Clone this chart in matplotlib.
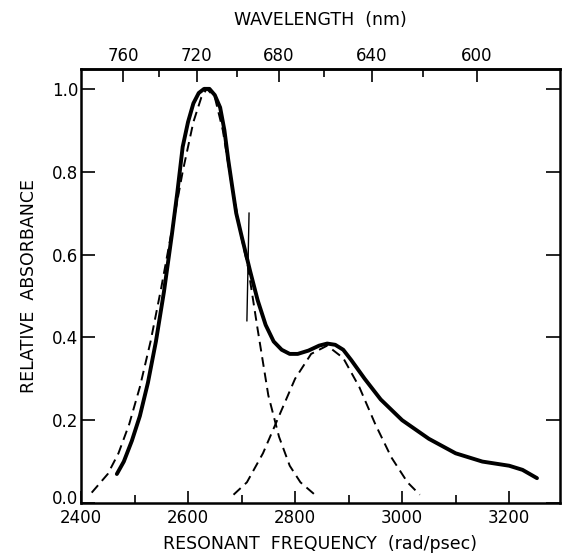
"""
Absorbance spectrum vs. resonant frequency, with the two Gaussian
components of the fit and a wavelength scale on top.
"""

import numpy as np
import matplotlib.pyplot as plt
import matplotlib.transforms as mtransforms
from matplotlib.ticker import MultipleLocator, FixedLocator

# measured spectrum (rad/psec, relative absorbance)
freq = [2467, 2480, 2495, 2510, 2525, 2540, 2555, 2570, 2580, 2590,
        2600, 2610, 2620, 2630, 2640, 2650, 2660, 2668, 2675, 2683,
        2690, 2700, 2716, 2730, 2745, 2760, 2775, 2790, 2805, 2825,
        2845, 2860, 2875, 2890, 2905, 2930, 2960, 3000, 3050, 3100,
        3150, 3200, 3225, 3252]
absorb = [0.07, 0.10, 0.15, 0.21, 0.29, 0.39, 0.51, 0.65, 0.75, 0.86,
          0.92, 0.965, 0.99, 1.00, 1.00, 0.985, 0.955, 0.90, 0.83, 0.76,
          0.70, 0.645, 0.56, 0.49, 0.43, 0.39, 0.37, 0.36, 0.36, 0.368,
          0.38, 0.385, 0.382, 0.37, 0.345, 0.30, 0.25, 0.20, 0.155, 0.12,
          0.10, 0.09, 0.08, 0.06]

# first fitted band
band1_freq = [2420, 2450, 2470, 2490, 2510, 2530, 2550, 2570, 2590, 2610,
              2625, 2635, 2650, 2665, 2680, 2700, 2712, 2730, 2750, 2770,
              2790, 2810, 2837]
band1_abs = [0.025, 0.07, 0.12, 0.19, 0.28, 0.39, 0.52, 0.66, 0.80, 0.92,
             0.98, 1.00, 0.98, 0.90, 0.78, 0.64, 0.57, 0.42, 0.26, 0.16,
             0.09, 0.05, 0.02]

# second fitted band
band2_freq = [2685, 2710, 2740, 2770, 2800, 2830, 2860, 2890, 2920, 2950,
              2980, 3010, 3033]
band2_abs = [0.02, 0.05, 0.12, 0.21, 0.30, 0.36, 0.38, 0.35, 0.28, 0.19,
             0.11, 0.05, 0.02]

# crossing marker
marker_freq = [2714, 2710]
marker_abs = [0.70, 0.44]

abs_ticks = [0.0, 0.2, 0.4, 0.6, 0.8, 1.0]
wl_major = [760, 720, 680, 640, 600]
wl_minor = [740, 700, 660, 620]

C_NM_PS = 2.99792458e5  # speed of light in nm/ps


def freq_to_wl(w):
    w = np.asarray(w, dtype=float)
    return 2 * np.pi * C_NM_PS / np.where(w == 0, np.nan, w)


def wl_to_freq(lam):
    lam = np.asarray(lam, dtype=float)
    return 2 * np.pi * C_NM_PS / np.where(lam == 0, np.nan, lam)


def main():
    plt.rcParams["font.family"] = "DejaVu Sans"
    fig = plt.figure(figsize=(5.64, 5.55), dpi=100)
    ax = fig.add_axes([0.1436, 0.0937, 0.8493, 0.782])

    ax.plot(freq, absorb, color="black", lw=2.8, solid_capstyle="round",
            solid_joinstyle="round")
    ax.plot(band1_freq, band1_abs, color="black", lw=1.4, dashes=(5, 3))
    ax.plot(band2_freq, band2_abs, color="black", lw=1.4, dashes=(5, 3))
    ax.plot(marker_freq, marker_abs, color="black", lw=1.0)

    ax.set_xlim(2400, 3295)
    ax.set_ylim(0, 1.048)

    ax.xaxis.set_major_locator(MultipleLocator(200))
    ax.xaxis.set_minor_locator(MultipleLocator(100))
    ax.yaxis.set_major_locator(FixedLocator(abs_ticks))
    ax.yaxis.set_major_formatter(plt.FuncFormatter(lambda v, p: f"{v:.1f}"))

    ax.tick_params(axis="x", which="major", direction="in", length=9,
                   width=1.2, labelsize=12, pad=4)
    ax.tick_params(axis="x", which="minor", direction="in", length=6,
                   width=1.2, bottom=True, top=False)
    ax.tick_params(axis="y", which="major", direction="in", length=10,
                   width=1.2, labelsize=12, pad=2, right=True)
    for s in ax.spines.values():
        s.set_linewidth(1.8)

    ax.set_xlabel("RESONANT  FREQUENCY  (rad/psec)", fontsize=12.5,
                  labelpad=6)
    ax.set_ylabel("RELATIVE  ABSORBANCE", fontsize=12.5, labelpad=10)

    top = ax.secondary_xaxis("top", functions=(freq_to_wl, wl_to_freq))
    top.xaxis.set_major_locator(FixedLocator(wl_major))
    top.xaxis.set_minor_locator(FixedLocator(wl_minor))
    top.tick_params(which="major", direction="in", length=9, width=1.2,
                    labelsize=12, pad=3)
    top.tick_params(which="minor", direction="in", length=6, width=1.2)
    top.spines["top"].set_linewidth(1.8)
    top.set_xlabel("WAVELENGTH  (nm)", fontsize=12.5, labelpad=16)

    # lift the 0.0 label a little so it sits clear of 2400
    fig.canvas.draw()
    lift = mtransforms.ScaledTranslation(0, 4 / 72, fig.dpi_scale_trans)
    for tick in ax.yaxis.get_major_ticks():
        if abs(tick.get_loc()) < 1e-9:
            tick.label1.set_transform(tick.label1.get_transform() + lift)

    fig.savefig("out.png", dpi=100)
    plt.close(fig)


if __name__ == "__main__":
    main()
